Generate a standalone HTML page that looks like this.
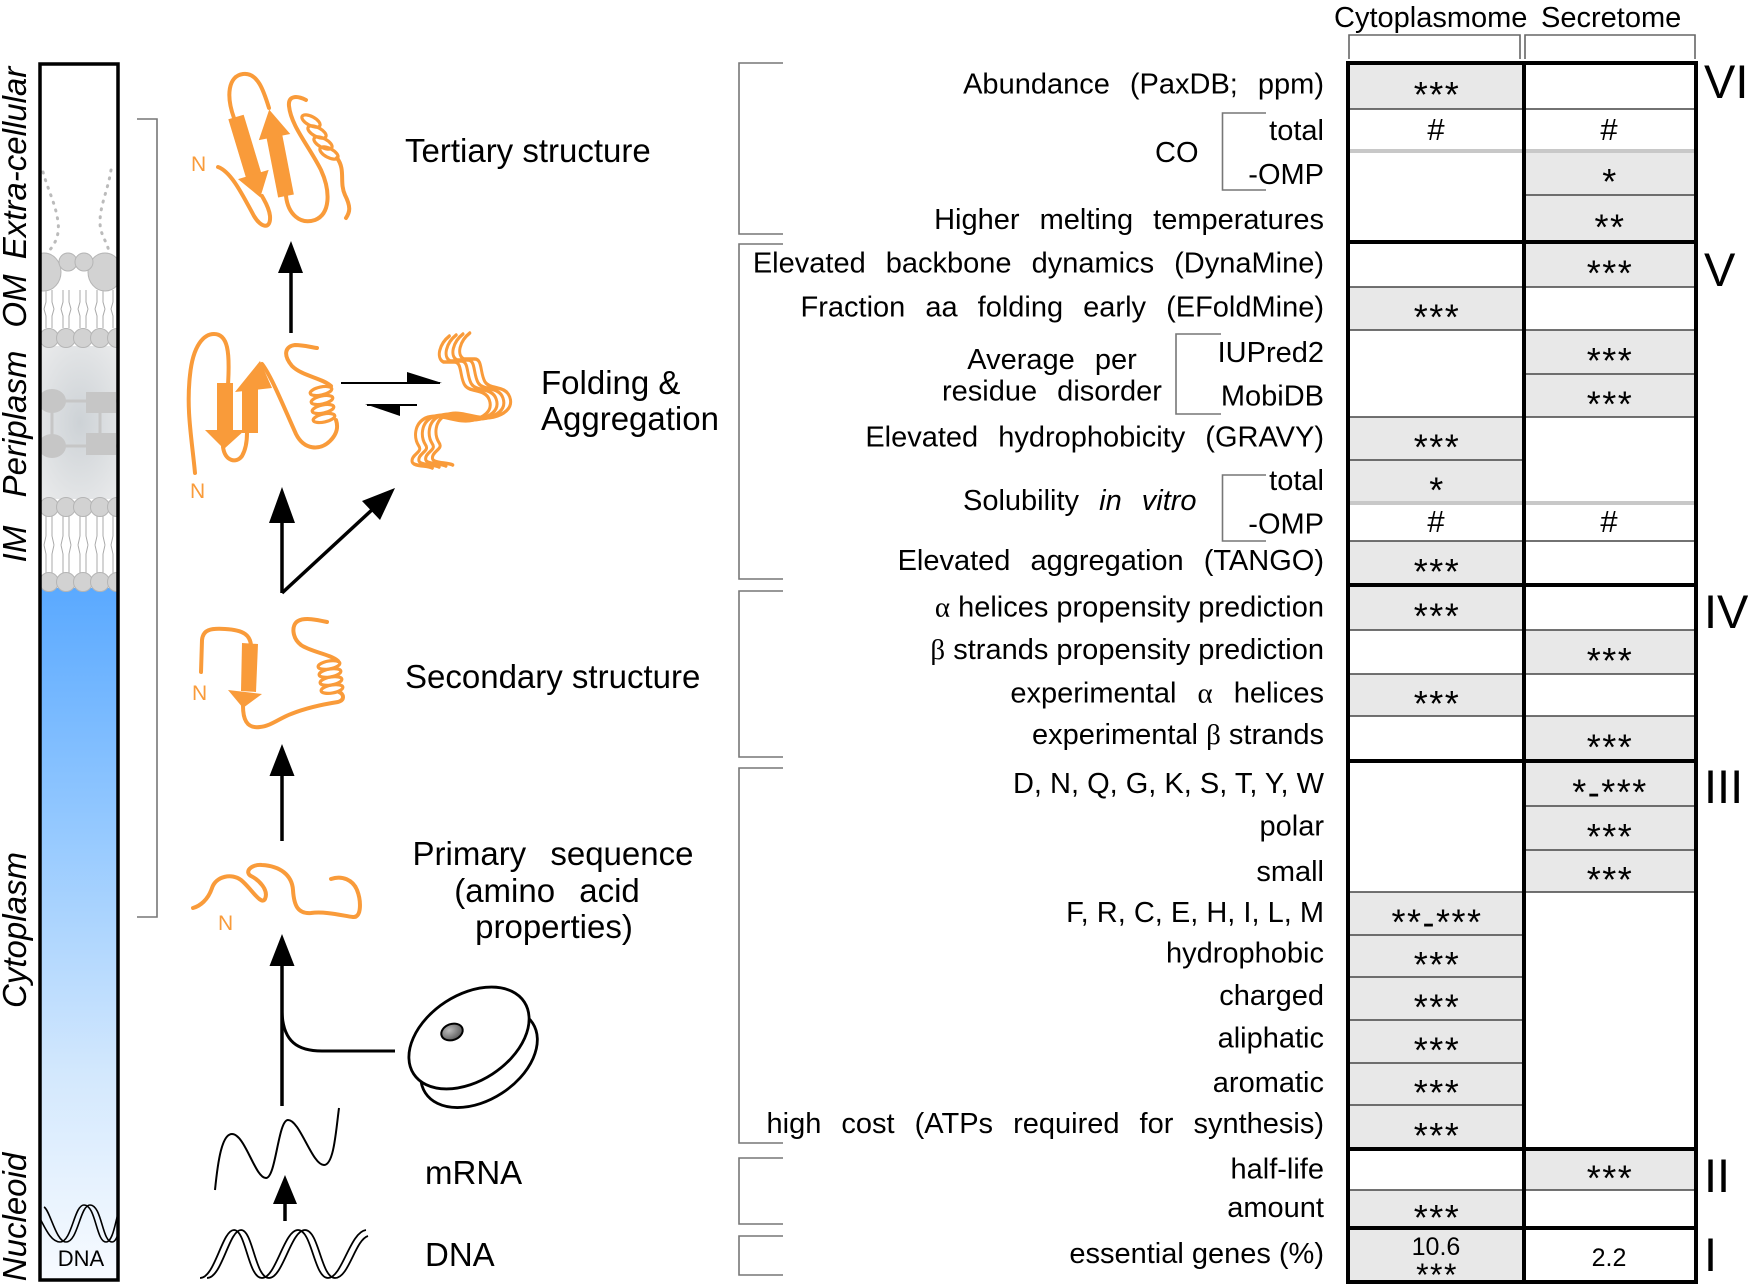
<!DOCTYPE html>
<html><head><meta charset="utf-8"><style>
html,body{margin:0;padding:0;background:#fff;}
svg{display:block;}
text{font-family:"Liberation Sans",Arial,sans-serif;fill:#000;}
.lbl{font-size:29px;}
.big{font-size:33px;}
.st{font-family:"Liberation Serif","Times New Roman",serif;font-size:36px;letter-spacing:1.5px;}
.hs{font-family:"Liberation Serif","Times New Roman",serif;font-size:31px;}
.gr{font-family:"Liberation Serif","Times New Roman",serif;}
.rn{font-size:47px;}
.nl{font-size:21px;fill:#f99b3a;}
.o{fill:none;stroke:#f99b3a;stroke-width:4;stroke-linecap:round;stroke-linejoin:round;}
.of{fill:#f99b3a;stroke:none;}
.hx{fill:none;stroke:#f99b3a;stroke-width:3.2;}
.bk{stroke:#777;stroke-width:1.6;fill:none;}
.tl{stroke:#444;stroke-width:1.5;}
.tk{stroke:#000;stroke-width:4;}
.gl{stroke:#c8c8c8;stroke-width:4;}
.cg{fill:#e8e8e8;}
.ar{stroke:#000;stroke-width:3.5;fill:none;}
</style></head><body>
<svg xmlns="http://www.w3.org/2000/svg" width="1748" height="1286" viewBox="0 0 1748 1286">
<defs>
 <linearGradient id="blue" x1="0" y1="0" x2="0" y2="1">
  <stop offset="0" stop-color="#5aa9ff"/>
  <stop offset="0.35" stop-color="#95c9ff"/>
  <stop offset="0.7" stop-color="#d3e8fd"/>
  <stop offset="1" stop-color="#f8fbff"/>
 </linearGradient>
 <radialGradient id="peri" cx="0.5" cy="0.5" r="0.65">
  <stop offset="0" stop-color="#cdd2d6"/>
  <stop offset="1" stop-color="#e9eaeb"/>
 </radialGradient>
 <radialGradient id="spot" cx="0.4" cy="0.35" r="0.7">
  <stop offset="0" stop-color="#bbb"/>
  <stop offset="1" stop-color="#555"/>
 </radialGradient>
 <clipPath id="barclip"><rect x="41" y="65" width="76" height="1214"/></clipPath>
</defs>

<!-- ============ LEFT BAR ============ -->
<g clip-path="url(#barclip)">
 <rect x="38" y="588" width="84" height="695" fill="url(#blue)"/>
 <rect x="38" y="346" width="84" height="153" fill="url(#peri)"/>
 <path d="M43,172 C48,190 56,205 58,222 C60,236 54,246 47,253" fill="none" stroke="#bbb" stroke-width="3" stroke-dasharray="1 7" stroke-linecap="round"/>
 <path d="M111,170 C108,190 100,205 100,222 C100,236 108,242 109,253" fill="none" stroke="#bbb" stroke-width="3" stroke-dasharray="1 7" stroke-linecap="round"/>
 <g stroke="#aaa" stroke-width="1" fill="none">
  <path d="M46,290 V302 L44,309 M52,290 V302 L54,309 M46,328 V316 L44,309 M52,328 V316 L54,309"/>
  <path d="M63,290 V302 L61,309 M69,290 V302 L71,309 M63,328 V316 L61,309 M69,328 V316 L71,309"/>
  <path d="M80,290 V302 L78,309 M86,290 V302 L88,309 M80,328 V316 L78,309 M86,328 V316 L88,309"/>
  <path d="M97,290 V302 L95,309 M103,290 V302 L105,309 M97,328 V316 L95,309 M103,328 V316 L105,309"/>
  <path d="M113,290 V302 L111,309 M119,290 V302 L121,309 M113,328 V316 L111,309 M119,328 V316 L121,309"/>
  <path d="M46,516 V536 L44,545 M52,516 V536 L54,545 M46,574 V554 L44,545 M52,574 V554 L54,545"/>
  <path d="M63,516 V536 L61,545 M69,516 V536 L71,545 M63,574 V554 L61,545 M69,574 V554 L71,545"/>
  <path d="M80,516 V536 L78,545 M86,516 V536 L88,545 M80,574 V554 L78,545 M86,574 V554 L88,545"/>
  <path d="M97,516 V536 L95,545 M103,516 V536 L105,545 M97,574 V554 L95,545 M103,574 V554 L105,545"/>
  <path d="M113,516 V536 L111,545 M119,516 V536 L121,545 M113,574 V554 L111,545 M119,574 V554 L121,545"/>
 </g>
 <g fill="#d2d2d2" stroke="#b5b5b5" stroke-width="1">
  <ellipse cx="44" cy="272" rx="17" ry="19"/>
  <ellipse cx="105" cy="272" rx="17" ry="19"/>
  <circle cx="68" cy="262" r="9"/>
  <circle cx="84" cy="262" r="9"/>
  <circle cx="49" cy="338" r="9.5"/><circle cx="66" cy="338" r="9.5"/><circle cx="83" cy="338" r="9.5"/><circle cx="100" cy="338" r="9.5"/><circle cx="117" cy="338" r="9.5"/>
  <circle cx="49" cy="507" r="9.5"/><circle cx="66" cy="507" r="9.5"/><circle cx="83" cy="507" r="9.5"/><circle cx="100" cy="507" r="9.5"/><circle cx="117" cy="507" r="9.5"/>
  <circle cx="49" cy="582" r="9.5"/><circle cx="66" cy="582" r="9.5"/><circle cx="83" cy="582" r="9.5"/><circle cx="100" cy="582" r="9.5"/><circle cx="117" cy="582" r="9.5"/>
 </g>
 <g fill="#c6c6c6" stroke="none">
  <ellipse cx="52" cy="401" rx="14" ry="12"/>
  <ellipse cx="52" cy="446" rx="14" ry="12"/>
  <rect x="86" y="392" width="30" height="21"/>
  <rect x="86" y="433" width="30" height="22"/>
 </g>
 <g stroke="#c6c6c6" stroke-width="3">
  <line x1="52" y1="401" x2="90" y2="401"/>
  <line x1="52" y1="446" x2="90" y2="446"/>
  <line x1="52" y1="401" x2="52" y2="446"/>
  <line x1="100" y1="410" x2="100" y2="436"/>
  <line x1="110" y1="401" x2="120" y2="401"/>
  <line x1="110" y1="446" x2="120" y2="446"/>
 </g>
 <g fill="none" stroke="#000" stroke-width="1.6">
  <path d="M38,1215 C44,1225 50,1242 60,1242 C72,1242 74,1205 84,1205 C96,1205 96,1242 106,1242 C114,1242 116,1215 120,1208"/>
  <path d="M44,1207 C50,1210 56,1242 66,1242 C78,1242 80,1205 90,1205 C102,1205 102,1242 112,1242 C118,1242 120,1225 122,1218"/>
 </g>
</g>
<rect x="40" y="64" width="78" height="1216" fill="none" stroke="#000" stroke-width="3.5"/>
<text x="81" y="1266" text-anchor="middle" style="font-size:22px">DNA</text>

<g style="font-size:33px;font-style:italic">
 <text transform="translate(26,163) rotate(-90)" text-anchor="middle">Extra-cellular</text>
 <text transform="translate(26,301) rotate(-90)" text-anchor="middle">OM</text>
 <text transform="translate(26,424) rotate(-90)" text-anchor="middle">Periplasm</text>
 <text transform="translate(26,544) rotate(-90)" text-anchor="middle">IM</text>
 <text transform="translate(26,930) rotate(-90)" text-anchor="middle">Cytoplasm</text>
 <text transform="translate(26,1217) rotate(-90)" text-anchor="middle">Nucleoid</text>
</g>

<path class="bk" d="M137,119 H157 V917 H137"/>

<!-- ============ PROTEINS ============ -->
<g>
 <path class="o" d="M218,167 C232,172 244,198 254,216 C261,228 271,230 270,216 C269,207 264,200 262,196"/>
 <g transform="translate(236,117) rotate(-16.8)">
  <rect class="of" x="-8" y="0" width="16" height="62"/>
  <polygon class="of" points="-16,60 16,60 0,84"/>
 </g>
 <g transform="translate(286,196) rotate(-11)">
  <rect class="of" x="-8" y="-62" width="16" height="62"/>
  <polygon class="of" points="-16,-60 16,-60 0,-88"/>
 </g>
 <path class="o" d="M234,118 C226,96 228,76 243,74 C258,72 264,92 269,108"/>
 <path class="o" d="M286,196 C288,214 300,225 315,220 C330,214 331,192 321,170 C309,146 291,126 289,106 C288,96 296,95 306,100"/>
 <ellipse class="hx" cx="311" cy="121" rx="10" ry="4.5" transform="rotate(28 311 121)"/>
 <ellipse class="hx" cx="317" cy="132" rx="10" ry="4.5" transform="rotate(28 317 132)"/>
 <ellipse class="hx" cx="323" cy="143" rx="10" ry="4.5" transform="rotate(28 323 143)"/>
 <ellipse class="hx" cx="329" cy="153" rx="10" ry="4.5" transform="rotate(28 329 153)"/>
 <path class="o" d="M337,158 C346,170 339,182 345,195 C351,207 350,212 346,218"/>
 <text class="nl" x="191" y="171">N</text>
</g>

<line class="ar" x1="291" y1="333" x2="291" y2="268"/>
<polygon points="278,273 303,273 291,241" fill="#000"/>

<g>
 <path class="o" d="M195,473 C192,440 186,410 190,375 C193,345 204,334 214,334 C228,334 230,352 228,385"/>
 <rect class="of" x="217" y="383" width="16" height="49"/>
 <polygon class="of" points="205,430 245,430 224,449"/>
 <path class="o" d="M223,447 C225,461 236,464 242,456 C246,449 247,441 247,433"/>
 <rect class="of" x="242" y="387" width="16" height="46"/>
 <polygon class="of" points="235,392 272,388 260,361"/>
 <path class="o" d="M262,364 C272,377 285,410 296,434 C304,450 320,451 330,441 C338,433 338,426 336,420"/>
 <ellipse class="hx" cx="321" cy="391" rx="11" ry="4" transform="rotate(-12 321 391)"/>
 <ellipse class="hx" cx="322" cy="400" rx="11" ry="4" transform="rotate(-12 322 400)"/>
 <ellipse class="hx" cx="323" cy="409" rx="11" ry="4" transform="rotate(-12 323 409)"/>
 <ellipse class="hx" cx="324" cy="418" rx="11" ry="4" transform="rotate(-12 324 418)"/>
 <path class="o" d="M331,386 C322,378 302,376 292,366 C282,354 286,346 295,345 C303,345 310,347 317,348"/>
 <text class="nl" x="190" y="498">N</text>
</g>

<line x1="341" y1="383" x2="440" y2="383" stroke="#000" stroke-width="2"/>
<polygon points="407,372 442,383 407,384" fill="#000"/>
<line x1="417" y1="405" x2="367" y2="405" stroke="#000" stroke-width="2"/>
<polygon points="400,404 365,404 400,416" fill="#000"/>

<!-- Aggregate -->
<g transform="translate(412,0) scale(0.85,1) translate(-418,0)">
 <path id="agg" class="o" style="stroke-width:3.5" d="M462,336 C450,344 446,358 455,362 L468,362 C477,362 474,377 480,385 C486,393 504,388 509,400 C514,412 500,418 490,420 C470,424 452,412 434,418 C420,424 420,438 426,446 C431,452 418,454 418,461 C418,467 436,465 442,468"/>
 <use href="#agg" transform="translate(8,-1)"/>
 <use href="#agg" transform="translate(16,-2)"/>
 <use href="#agg" transform="translate(24,-3)"/>
</g>

<line class="ar" x1="282" y1="593" x2="282" y2="518"/>
<polygon points="269,523 295,523 282,487" fill="#000"/>
<polyline class="ar" points="282,593 374,508"/>
<polygon points="395,488 380,520 362,501" fill="#000"/>

<g>
 <path class="o" d="M201,672 L202,640 C203,630 210,628 225,629 C245,630 250,636 251,645"/>
 <polygon class="of" points="242,643 258,644 256,692 241,691"/>
 <polygon class="of" points="228,690 262,694 243,708"/>
 <path class="o" d="M243,706 C243,718 246,729 260,727 C271,726 280,718 291,714 C306,708 325,704 338,702 C345,700 344,694 339,692"/>
 <ellipse class="hx" cx="329" cy="665" rx="11" ry="4" transform="rotate(-10 329 665)"/>
 <ellipse class="hx" cx="330" cy="673" rx="11" ry="4" transform="rotate(-10 330 673)"/>
 <ellipse class="hx" cx="331" cy="681" rx="11" ry="4" transform="rotate(-10 331 681)"/>
 <ellipse class="hx" cx="332" cy="689" rx="11" ry="4" transform="rotate(-10 332 689)"/>
 <path class="o" d="M338,661 C330,654 311,652 301,645 C292,638 291,625 298,621 C305,617 318,620 327,622"/>
 <text class="nl" x="192" y="700">N</text>
</g>

<line class="ar" x1="282" y1="841" x2="282" y2="772"/>
<polygon points="269.5,776 294.5,776 282,744" fill="#000"/>

<g>
 <path class="o" d="M193,908 C200,906 208,900 212,888 C216,876 232,873 241,880 C251,888 261,906 265,899 C269,890 259,880 251,876 C244,872 251,864 262,865 C280,866 292,875 293,890 C294,906 298,914 311,913 C326,911 344,916 353,917 C362,918 361,900 357,890 C353,880 342,875 331,879"/>
 <text class="nl" x="218" y="930">N</text>
</g>

<line class="ar" x1="282" y1="1106" x2="282" y2="962"/>
<polygon points="269.5,966 294.5,966 282,934" fill="#000"/>
<path d="M282,1012 C283,1042 298,1051 322,1051 L395,1051" fill="none" stroke="#000" stroke-width="3"/>

<g stroke="#000" stroke-width="2.8" fill="#fff">
 <ellipse cx="479" cy="1058" rx="64" ry="42" transform="rotate(-33 479 1058)"/>
 <ellipse cx="469" cy="1038" rx="66" ry="43" transform="rotate(-33 469 1038)"/>
 <ellipse cx="452" cy="1032" rx="11" ry="8" transform="rotate(-20 452 1032)" fill="url(#spot)" stroke-width="2"/>
</g>

<path d="M215,1190 C218,1160 222,1134 232,1134 C245,1134 255,1178 266,1178 C276,1178 278,1120 288,1120 C300,1120 312,1165 324,1165 C334,1165 336,1130 339,1108" fill="none" stroke="#000" stroke-width="2"/>
<line class="ar" x1="285" y1="1221" x2="285" y2="1200"/>
<polygon points="273,1204 297,1204 285,1175" fill="#000"/>
<g fill="none" stroke="#000" stroke-width="1.8">
 <path d="M200,1278 C215,1278 222,1230 234,1230 C246,1230 248,1278 262,1278 C276,1278 284,1230 298,1230 C312,1230 314,1278 328,1278 C342,1278 350,1232 366,1230"/>
 <path d="M207,1278 C222,1278 229,1230 241,1230 C253,1230 255,1278 269,1278 C283,1278 291,1230 305,1230 C319,1230 321,1278 335,1278 C349,1278 355,1240 368,1236"/>
</g>

<text class="big" x="405" y="162">Tertiary structure</text>
<text class="big" x="541" y="394">Folding &amp;</text>
<text class="big" x="541" y="430">Aggregation</text>
<text class="big" x="405" y="688">Secondary structure</text>
<text class="big" x="553" y="865" text-anchor="middle" word-spacing="15">Primary sequence</text>
<text class="big" x="547" y="902" text-anchor="middle" word-spacing="15">(amino acid</text>
<text class="big" x="554" y="938" text-anchor="middle">properties)</text>
<text class="big" x="425" y="1184">mRNA</text>
<text class="big" x="425" y="1266">DNA</text>

<!-- ============ TABLE LABEL BRACKETS ============ -->
<path class="bk" d="M783,63 H739 V234 H783"/>
<path class="bk" d="M783,244 H739 V579 H783"/>
<path class="bk" d="M783,591 H739 V757 H783"/>
<path class="bk" d="M783,768 H739 V1143 H783"/>
<path class="bk" d="M783,1158 H739 V1224 H783"/>
<path class="bk" d="M783,1236 H739 V1275 H783"/>
<path class="bk" d="M1266,113 H1222.5 V190 H1266"/>
<path class="bk" d="M1221,334 H1176 V414 H1221"/>
<path class="bk" d="M1266,475 H1222.5 V541 H1266"/>

<g class="lbl">
 <text x="1324" y="93.5" text-anchor="end" word-spacing="12">Abundance (PaxDB; ppm)</text>
 <text x="1155" y="162">CO</text>
 <text x="1324" y="140" text-anchor="end">total</text>
 <text x="1324" y="184" text-anchor="end">-OMP</text>
 <text x="1324" y="229" text-anchor="end" word-spacing="12">Higher melting temperatures</text>
 <text x="1324" y="272.5" text-anchor="end" word-spacing="12">Elevated backbone dynamics (DynaMine)</text>
 <text x="1324" y="316.5" text-anchor="end" word-spacing="12">Fraction aa folding early (EFoldMine)</text>
 <text x="1052" y="369" text-anchor="middle" word-spacing="12">Average per</text>
 <text x="1052" y="400.5" text-anchor="middle" word-spacing="12">residue disorder</text>
 <text x="1324" y="362" text-anchor="end">IUPred2</text>
 <text x="1324" y="405.5" text-anchor="end">MobiDB</text>
 <text x="1324" y="446.5" text-anchor="end" word-spacing="12">Elevated hydrophobicity (GRAVY)</text>
 <text x="963" y="510" word-spacing="12">Solubility <tspan font-style="italic">in</tspan> <tspan font-style="italic">vitro</tspan></text>
 <text x="1324" y="490" text-anchor="end">total</text>
 <text x="1324" y="533.5" text-anchor="end">-OMP</text>
 <text x="1324" y="570" text-anchor="end" word-spacing="12">Elevated aggregation (TANGO)</text>
 <text x="1324" y="616.5" text-anchor="end"><tspan class="gr">α</tspan> helices propensity prediction</text>
 <text x="1324" y="659" text-anchor="end"><tspan class="gr">β</tspan> strands propensity prediction</text>
 <text x="1324" y="702.5" text-anchor="end" word-spacing="13">experimental <tspan class="gr">α</tspan> helices</text>
 <text x="1324" y="744" text-anchor="end">experimental <tspan class="gr">β</tspan> strands</text>
 <text x="1324" y="793" text-anchor="end">D, N, Q, G, K, S, T, Y, W</text>
 <text x="1324" y="835.5" text-anchor="end">polar</text>
 <text x="1324" y="881" text-anchor="end">small</text>
 <text x="1324" y="922" text-anchor="end">F, R, C, E, H, I, L, M</text>
 <text x="1324" y="962.5" text-anchor="end">hydrophobic</text>
 <text x="1324" y="1005" text-anchor="end">charged</text>
 <text x="1324" y="1047.5" text-anchor="end">aliphatic</text>
 <text x="1324" y="1092" text-anchor="end">aromatic</text>
 <text x="1324" y="1133" text-anchor="end" word-spacing="12">high cost (ATPs required for synthesis)</text>
 <text x="1324" y="1178.5" text-anchor="end">half-life</text>
 <text x="1324" y="1217" text-anchor="end">amount</text>
 <text x="1324" y="1263" text-anchor="end">essential genes (%)</text>
</g>

<!-- ============ TABLE ============ -->
<text class="lbl" x="1334" y="27">Cytoplasmome</text>
<text class="lbl" x="1541" y="27">Secretome</text>
<path d="M1349,59 V35 H1520 V59" fill="none" stroke="#666" stroke-width="1.6"/>
<path d="M1525,59 V35 H1695 V59" fill="none" stroke="#666" stroke-width="1.6"/>

<g class="cg">
 <rect x="1348" y="63" width="176" height="46"/>
 <rect x="1348" y="287" width="176" height="43"/>
 <rect x="1348" y="417" width="176" height="86"/>
 <rect x="1348" y="541" width="176" height="89"/>
 <rect x="1348" y="674" width="176" height="42"/>
 <rect x="1348" y="892" width="176" height="257"/>
 <rect x="1348" y="1190" width="176" height="92"/>
 <rect x="1524" y="151" width="172" height="136"/>
 <rect x="1524" y="330" width="172" height="87"/>
 <rect x="1524" y="630" width="172" height="44"/>
 <rect x="1524" y="716" width="172" height="176"/>
 <rect x="1524" y="1149" width="172" height="41"/>
</g>

<g class="tl">
 <line x1="1348" x2="1696" y1="109" y2="109"/>
 <line x1="1348" x2="1696" y1="287" y2="287"/>
 <line x1="1348" x2="1696" y1="330" y2="330"/>
 <line x1="1348" x2="1696" y1="417" y2="417"/>
 <line x1="1348" x2="1696" y1="541" y2="541"/>
 <line x1="1348" x2="1696" y1="630" y2="630"/>
 <line x1="1348" x2="1696" y1="674" y2="674"/>
 <line x1="1348" x2="1696" y1="716" y2="716"/>
 <line x1="1348" x2="1696" y1="892" y2="892"/>
 <line x1="1348" x2="1696" y1="1190" y2="1190"/>
 <line x1="1348" x2="1524" y1="460" y2="460"/>
 <line x1="1348" x2="1524" y1="935" y2="935"/>
 <line x1="1348" x2="1524" y1="977" y2="977"/>
 <line x1="1348" x2="1524" y1="1020" y2="1020"/>
 <line x1="1348" x2="1524" y1="1063" y2="1063"/>
 <line x1="1348" x2="1524" y1="1105" y2="1105"/>
 <line x1="1524" x2="1696" y1="195" y2="195"/>
 <line x1="1524" x2="1696" y1="374" y2="374"/>
 <line x1="1524" x2="1696" y1="806" y2="806"/>
 <line x1="1524" x2="1696" y1="850" y2="850"/>
</g>
<g class="gl">
 <line x1="1348" x2="1696" y1="151" y2="151"/>
 <line x1="1348" x2="1696" y1="503" y2="503"/>
</g>
<g class="tk">
 <line x1="1346" x2="1698" y1="63" y2="63"/>
 <line x1="1346" x2="1698" y1="242" y2="242"/>
 <line x1="1346" x2="1698" y1="585" y2="585"/>
 <line x1="1346" x2="1698" y1="761" y2="761"/>
 <line x1="1346" x2="1698" y1="1149" y2="1149"/>
 <line x1="1346" x2="1698" y1="1228" y2="1228"/>
 <line x1="1346" x2="1698" y1="1282" y2="1282"/>
 <line x1="1348" x2="1348" y1="61" y2="1284"/>
 <line x1="1524" x2="1524" y1="61" y2="1284"/>
 <line x1="1696" x2="1696" y1="61" y2="1284"/>
</g>

<g class="hs" text-anchor="middle">
 <text x="1436" y="140">#</text><text x="1609" y="140">#</text>
 <text x="1436" y="532">#</text><text x="1609" y="532">#</text>
</g>
<g class="st" text-anchor="middle">
 <text x="1437" y="107">***</text>
 <text x="1610" y="194">*</text>
 <text x="1610" y="239.5">**</text>
 <text x="1610" y="285.5">***</text>
 <text x="1437" y="329.5">***</text>
 <text x="1610" y="373">***</text>
 <text x="1610" y="416.5">***</text>
 <text x="1437" y="459.5">***</text>
 <text x="1437" y="502.5">*</text>
 <text x="1437" y="584">***</text>
 <text x="1437" y="628.5">***</text>
 <text x="1610" y="673">***</text>
 <text x="1437" y="716">***</text>
 <text x="1610" y="759.5">***</text>
 <text x="1610" y="804.5">*-***</text>
 <text x="1610" y="849">***</text>
 <text x="1610" y="892">***</text>
 <text x="1437" y="934.5">**-***</text>
 <text x="1437" y="977">***</text>
 <text x="1437" y="1019.5">***</text>
 <text x="1437" y="1062.5">***</text>
 <text x="1437" y="1105">***</text>
 <text x="1437" y="1148">***</text>
 <text x="1610" y="1190.5">***</text>
 <text x="1437" y="1230">***</text>
 <text x="1437" y="1286" style="font-size:32px">***</text>
</g>
<text x="1436" y="1255" text-anchor="middle" style="font-size:25px">10.6</text>
<text x="1609" y="1266" text-anchor="middle" style="font-size:25px">2.2</text>

<g class="rn">
 <text x="1704" y="98">VI</text>
 <text x="1704" y="286">V</text>
 <text x="1704" y="628">IV</text>
 <text x="1704" y="803">III</text>
 <text x="1704" y="1192">II</text>
 <text x="1704" y="1271">I</text>
</g>
</svg>
</body></html>
